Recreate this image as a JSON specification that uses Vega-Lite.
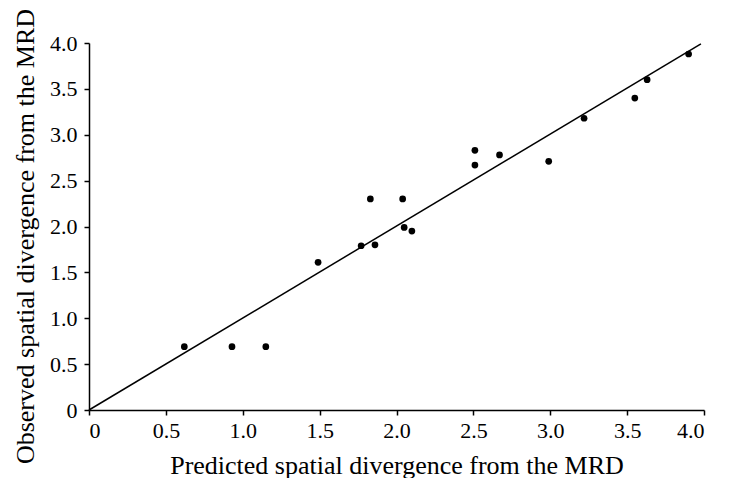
{
  "$schema": "https://vega.github.io/schema/vega-lite/v6.json",
  "width": 615,
  "height": 367,
  "autosize": {"type": "none"},
  "padding": {"left": 89, "top": 43, "right": 27, "bottom": 68},
  "background": "white",
  "config": {"view": {"stroke": null}, "font": "Liberation Serif"},
  "datasets": {
    "pts": [
      {"x": 0.62, "y": 0.69}, {"x": 0.93, "y": 0.69}, {"x": 1.15, "y": 0.69},
      {"x": 1.49, "y": 1.61}, {"x": 1.77, "y": 1.79}, {"x": 1.86, "y": 1.80},
      {"x": 1.83, "y": 2.30}, {"x": 2.04, "y": 2.30}, {"x": 2.05, "y": 1.99},
      {"x": 2.10, "y": 1.95}, {"x": 2.51, "y": 2.67}, {"x": 2.51, "y": 2.83},
      {"x": 2.67, "y": 2.78}, {"x": 2.99, "y": 2.71}, {"x": 3.22, "y": 3.18},
      {"x": 3.55, "y": 3.40}, {"x": 3.63, "y": 3.60}, {"x": 3.90, "y": 3.88}
    ],
    "fit": [{"x": 0, "y": 0}, {"x": 3.98, "y": 3.99}]
  },
  "layer": [
    {
      "data": {"name": "fit"},
      "mark": {"type": "line", "color": "black", "strokeWidth": 1.5},
      "encoding": {
        "x": {"field": "x", "type": "quantitative"},
        "y": {"field": "y", "type": "quantitative"}
      }
    },
    {
      "data": {"name": "pts"},
      "mark": {"type": "point", "filled": true, "color": "black", "opacity": 1, "size": 45},
      "encoding": {
        "x": {
          "field": "x", "type": "quantitative",
          "scale": {"domain": [0, 4], "nice": false, "zero": true},
          "axis": {
            "title": "Predicted spatial divergence from the MRD",
            "values": [0, 0.5, 1, 1.5, 2, 2.5, 3, 3.5, 4],
            "labelExpr": "datum.value == 0 ? '0' : format(datum.value, '.1f')",
            "grid": false, "domainColor": "black", "domainWidth": 1.5,
            "tickColor": "black", "tickSize": 5, "tickWidth": 1.5,
            "labelFontSize": 22, "labelColor": "black", "labelPadding": 5,
            "titleFontSize": 26, "titleFontWeight": "normal", "titleColor": "black",
            "titleBaseline": "alphabetic", "titleY": 63
          }
        },
        "y": {
          "field": "y", "type": "quantitative",
          "scale": {"domain": [0, 4], "nice": false, "zero": true},
          "axis": {
            "title": "Observed spatial divergence from the MRD",
            "values": [0, 0.5, 1, 1.5, 2, 2.5, 3, 3.5, 4],
            "labelExpr": "datum.value == 0 ? '0' : format(datum.value, '.1f')",
            "grid": false, "domainColor": "black", "domainWidth": 1.5,
            "tickColor": "black", "tickSize": 5, "tickWidth": 1.5,
            "labelFontSize": 22, "labelColor": "black", "labelPadding": 7,
            "titleFontSize": 26, "titleFontWeight": "normal", "titleColor": "black",
            "titleBaseline": "alphabetic", "titleX": -56, "titleY": 193
          }
        }
      }
    }
  ]
}
